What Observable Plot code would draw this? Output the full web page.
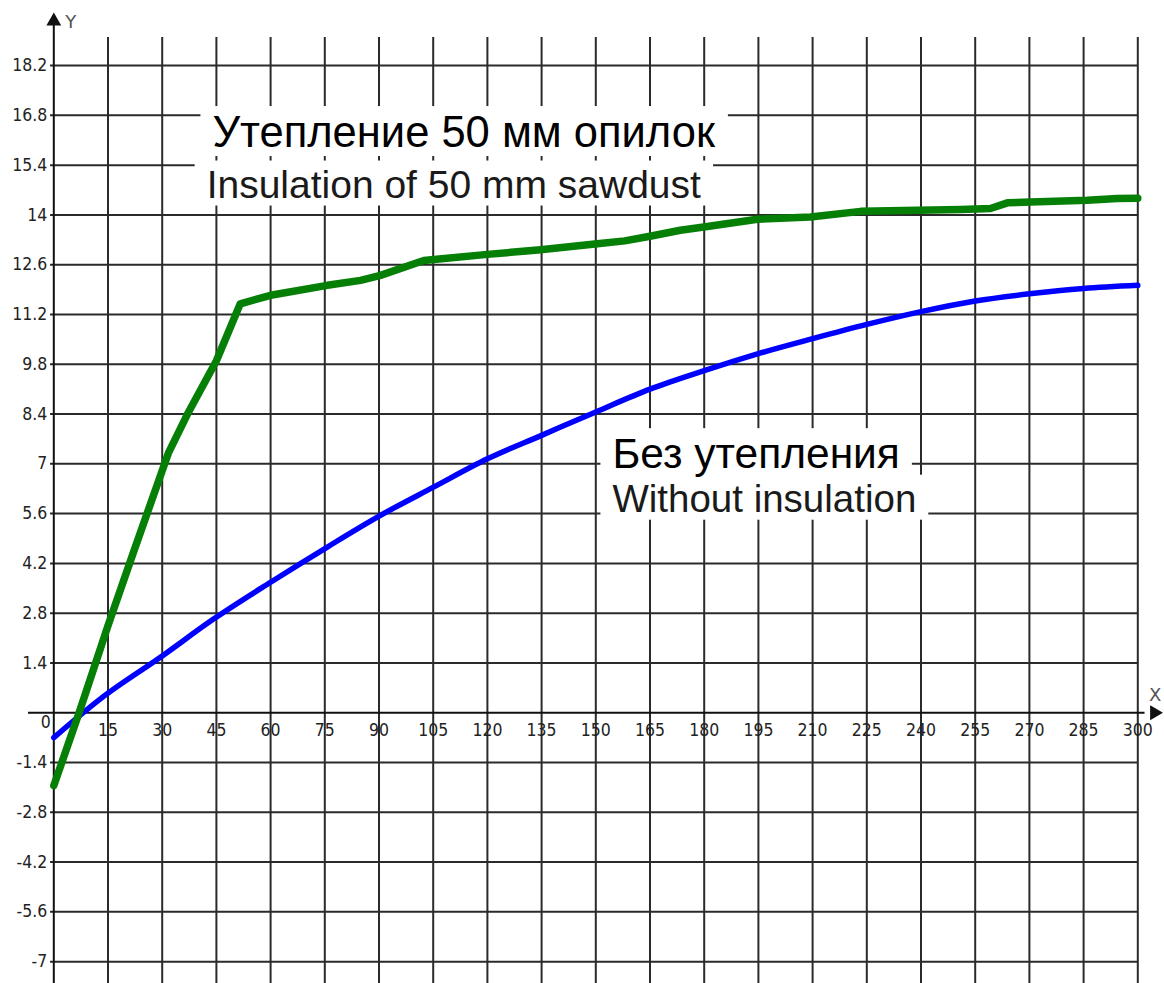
<!DOCTYPE html>
<html><head><meta charset="utf-8">
<script src="https://cdn.jsdelivr.net/npm/d3@7"></script>
<script src="https://cdn.jsdelivr.net/npm/@observablehq/plot@0.6"></script>
<style>html,body{margin:0;padding:0;background:#fff;} svg{display:block}</style>
</head><body><div id="chart"></div>
<script>
// tick values / labels
const xTicks = [15,30,45,60,75,90,105,120,135,150,165,180,195,210,225,240,255,270,285,300];
const yTicks = [18.2,16.8,15.4,14,12.6,11.2,9.8,8.4,7,5.6,4.2,2.8,1.4,-1.4,-2.8,-4.2,-5.6,-7];

// Series: insulated with 50 mm sawdust (green)
const insulatedX = [0,7,15,22,31.7,37,45,51.6,60,75.7,84.9,90.4,102.4,120,134.7,150.4,158,165,173.4,179.9,194.7,209.4,223.3,251,259.2,263.9,270.3,286,294.3,300];
const insulatedY = [-2.05,0.0,2.45,4.5,7.3,8.4,9.9,11.5,11.74,12.02,12.16,12.3,12.72,12.89,13.02,13.19,13.27,13.4,13.57,13.66,13.88,13.94,14.1,14.15,14.18,14.34,14.36,14.41,14.46,14.47];

// Series: without insulation (blue)
const bareX = [0,12.9,29.5,44.3,60,75.7,90.4,105.2,120,135,150,165,180,195,210,225,240,255,270,285,300];
const bareY = [-0.7,0.39,1.56,2.64,3.67,4.66,5.55,6.35,7.14,7.8,8.46,9.1,9.62,10.1,10.52,10.92,11.28,11.58,11.78,11.93,12.02];

const labelInsulatedRu = "Утепление 50 мм опилок";
const labelInsulatedEn = "Insulation of 50 mm sawdust";
const labelBareRu = "Без утепления";
const labelBareEn = "Without insulation";
const annotationLabels = [labelInsulatedRu, labelInsulatedEn, labelBareRu, labelBareEn];

const insulated = insulatedX.map((x,i)=>({x, y: insulatedY[i]}));
const bare = bareX.map((x,i)=>({x, y: bareY[i]}));

const yMin = -7.615, yMax = 20.03, gridTop = 18.99;
const tickFont = "'DejaVu Sans Condensed','Liberation Sans Narrow','DejaVu Sans',sans-serif";
const annoFont = "'Liberation Sans',Arial,sans-serif";
const gridColor = "#2a2a2a";

const plot = Plot.plot({
  width: 1164, height: 983,
  marginLeft: 53.3, marginRight: 26.7, marginTop: 0, marginBottom: 0,
  x: {domain: [0, 300], axis: null},
  y: {domain: [yMin, yMax], axis: null},
  style: {background: "white", overflow: "visible"},
  marks: [
    Plot.ruleX(xTicks, {x: d=>d, y1: gridTop, y2: yMin, stroke: gridColor, strokeWidth: 2}),
    Plot.ruleY(yTicks, {y: d=>d, x1: -0.9, x2: 300, stroke: gridColor, strokeWidth: 2}),
    Plot.ruleX([0], {x: d=>d, y1: 19.45, y2: yMin, stroke: "#111", strokeWidth: 2}),
    Plot.ruleY([0], {y: d=>d, x1: -7, x2: 302, stroke: "#111", strokeWidth: 2}),
    Plot.dot([{x: 0, y: 19.45}], {x: "x", y: "y", symbol: "triangle", r: 5.5, fill: "#111", stroke: "none"}),
    Plot.dot([{x: 304.6, y: 0}], {x: "x", y: "y", symbol: "triangle", r: 5.5, rotate: 90, fill: "#111", stroke: "none"}),
    Plot.text(["Y"], {x: 0, y: 19.42, text: d=>d, dx: 17, fontSize: 18, fill: "#555", fontFamily: "'DejaVu Sans',sans-serif"}),
    Plot.text(["X"], {x: 304.8, y: 0.49, text: d=>d, fontSize: 18, fill: "#555", fontFamily: "'DejaVu Sans',sans-serif"}),
    Plot.text(yTicks, {x: 0, y: d=>d, text: d=>String(d), textAnchor: "end", dx: -6.5, fontSize: 17.5, fill: "#222", fontFamily: tickFont}),
    Plot.text(xTicks, {x: d=>d, y: 0, text: d=>String(d), dy: 18, fontSize: 17.5, fill: "#222", fontFamily: tickFont}),
    Plot.text(["0"], {x: 0, y: 0, text: d=>d, textAnchor: "end", dx: -3, dy: 10, fontSize: 17.5, fill: "#222", fontFamily: tickFont}),
    Plot.text([labelInsulatedRu], {x: 43.9, y: 16.3, text: d=>d, textAnchor: "start", fontSize: 43.5, fill: "#000", fontFamily: annoFont}),
    Plot.text([labelInsulatedEn], {x: 42.3, y: 14.84, text: d=>d, textAnchor: "start", fontSize: 39, fill: "#1a1a1a", fontFamily: annoFont}),
    Plot.text([labelBareRu], {x: 154.6, y: 7.26, text: d=>d, textAnchor: "start", fontSize: 42.5, fill: "#000", fontFamily: annoFont}),
    Plot.text([labelBareEn], {x: 154.6, y: 6.0, text: d=>d, textAnchor: "start", fontSize: 38.5, fill: "#1a1a1a", fontFamily: annoFont}),
    Plot.line(bare, {x: "x", y: "y", stroke: "#0000ff", strokeWidth: 5.5, curve: "monotone-x", strokeLinejoin: "round", strokeLinecap: "round"}),
    Plot.line(insulated, {x: "x", y: "y", stroke: "#067f06", strokeWidth: 7.5, curve: "linear", strokeLinejoin: "round", strokeLinecap: "round"})
  ]
});
document.getElementById("chart").appendChild(plot);

// white boxes behind annotation text (all boxes drawn before all annotation texts)
const annoTexts = Array.from(plot.querySelectorAll("text")).filter(t => annotationLabels.includes(t.textContent));
if (annoTexts.length) {
  const firstGroup = annoTexts[0].parentNode;
  const boxLayer = document.createElementNS("http://www.w3.org/2000/svg", "g");
  firstGroup.parentNode.insertBefore(boxLayer, firstGroup);
  annoTexts.forEach(t => {
    const b = t.getBBox();
    const g = document.createElementNS("http://www.w3.org/2000/svg", "g");
    const pt = t.parentNode.getAttribute("transform");
    if (pt) g.setAttribute("transform", pt);
    const r = document.createElementNS("http://www.w3.org/2000/svg", "rect");
    r.setAttribute("x", b.x - 12);
    r.setAttribute("y", b.y - 2);
    r.setAttribute("width", b.width + 24);
    r.setAttribute("height", b.height + 2);
    r.setAttribute("fill", "white");
    if (t.getAttribute("transform")) r.setAttribute("transform", t.getAttribute("transform"));
    g.appendChild(r);
    boxLayer.appendChild(g);
  });
}
</script>
</body></html>
